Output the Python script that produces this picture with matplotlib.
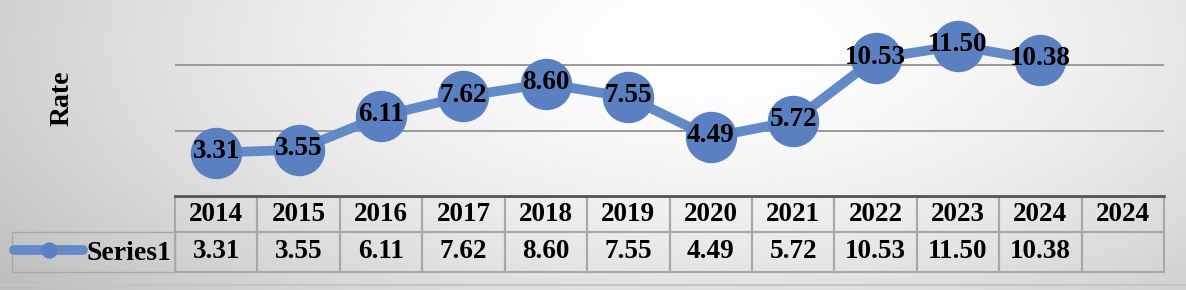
import numpy as np
import matplotlib
matplotlib.use("Agg")
import matplotlib.pyplot as plt
from matplotlib.table import Table

years = ['2014', '2015', '2016', '2017', '2018', '2019', '2020',
         '2021', '2022', '2023', '2024', '2024']
rate = [3.31, 3.55, 6.11, 7.62, 8.60, 7.55, 4.49, 5.72, 10.53, 11.50, 10.38]
series_name = 'Series1'

plt.rcParams['font.family'] = ['Liberation Serif', 'DejaVu Serif']
plt.rcParams['font.weight'] = 'bold'
fs = 19.5

W, H = 1186, 290
fig = plt.figure(figsize=(W / 100, H / 100), dpi=100)

# soft radial grey background like the Excel chart area
bg = fig.add_axes([0, 0, 1, 1], zorder=-5)
gx, gy = np.meshgrid(np.linspace(0, 1, 400), np.linspace(0, 1, 120))
d = np.sqrt(((gx - 0.6) / 0.75) ** 2 + ((gy - 0.85) / 1.4) ** 2)
shade = 1 - 0.26 * np.clip(d, 0, 1) ** 1.6
bg.imshow(shade, cmap='gray', vmin=0, vmax=1, extent=[0, 1, 0, 1],
          aspect='auto', origin='lower')
bg.axhline(1 - 285 / H, color='#c4c4c4', lw=1.5)
bg.axis('off')

left, right, top, bottom = 175, 1164, 0, 196
ax = fig.add_axes([left / W, 1 - bottom / H, (right - left) / W, (bottom - top) / H])
ax.patch.set_alpha(0)

blue = '#5a80c1'
x = np.arange(len(rate))
line, = ax.plot(x, rate, color='#6389c6', lw=7, marker='o', ms=36,
                mfc=blue, mec=blue, solid_capstyle='round', zorder=3,
                label=series_name)
for xi, v in zip(x, rate):
    ax.annotate(f'{v:.2f}', (xi, v), ha='center', va='center',
                fontsize=fs, fontweight='bold', zorder=4,
                xytext=(0, 1), textcoords='offset points')

ax.set_xlim(-0.5, len(years) - 0.5)
ax.set_ylim(0, 15)
ax.set_yticks([5, 10])
ax.yaxis.grid(True, color='#9a9a9a', lw=1.4)
ax.set_axisbelow(True)
ax.tick_params(left=False, bottom=False, labelleft=False, labelbottom=False)
for s in ['top', 'left', 'right']:
    ax.spines[s].set_visible(False)
ax.spines['bottom'].set_color('#555555')
ax.spines['bottom'].set_linewidth(2)

# data table under the plot
ax_h = bottom - top
ax_w = right - left
tbl_left, tbl_top, tbl_bot = 12, 197, 272
tb = Table(ax, bbox=[(tbl_left - left) / ax_w, -(tbl_bot - bottom) / ax_h,
                     (right - tbl_left) / ax_w, (tbl_bot - tbl_top) / ax_h])
col_w = [left - tbl_left] + [ax_w / len(years)] * len(years)
row_h = [35, 40]
edge = '#a8a8a8'
c = tb.add_cell(0, 0, col_w[0], row_h[0], text='', facecolor='none', edgecolor=edge)
c.visible_edges = ''
c = tb.add_cell(1, 0, col_w[0], row_h[1], text='', facecolor='none', edgecolor=edge)
for j, yr in enumerate(years):
    val = f'{rate[j]:.2f}' if j < len(rate) else ''
    for r, t in ((0, yr), (1, val)):
        cell = tb.add_cell(r, j + 1, col_w[j + 1], row_h[r], text=t,
                           facecolor='none', edgecolor=edge, loc='center')
        cell.get_text().set_fontsize(fs)
        cell.get_text().set_fontweight('bold')
        cell.set_linewidth(1.5)
tb.auto_set_font_size(False)
ax.add_table(tb)

# legend key inside the first table cell
leg = fig.legend(handles=[line], loc='center left',
                 bbox_to_anchor=(14 / W, 1 - 253 / H), frameon=False,
                 markerscale=0.3, handlelength=2.5, handletextpad=0.1,
                 borderpad=0, borderaxespad=0,
                 prop={'size': fs + 0.5, 'weight': 'bold'})

fig.text(62 / W, 1 - 98 / H, 'Rate', rotation=90, ha='center', va='center',
         fontsize=fs + 0.5, fontweight='bold')

fig.savefig('out.png', dpi=100)
